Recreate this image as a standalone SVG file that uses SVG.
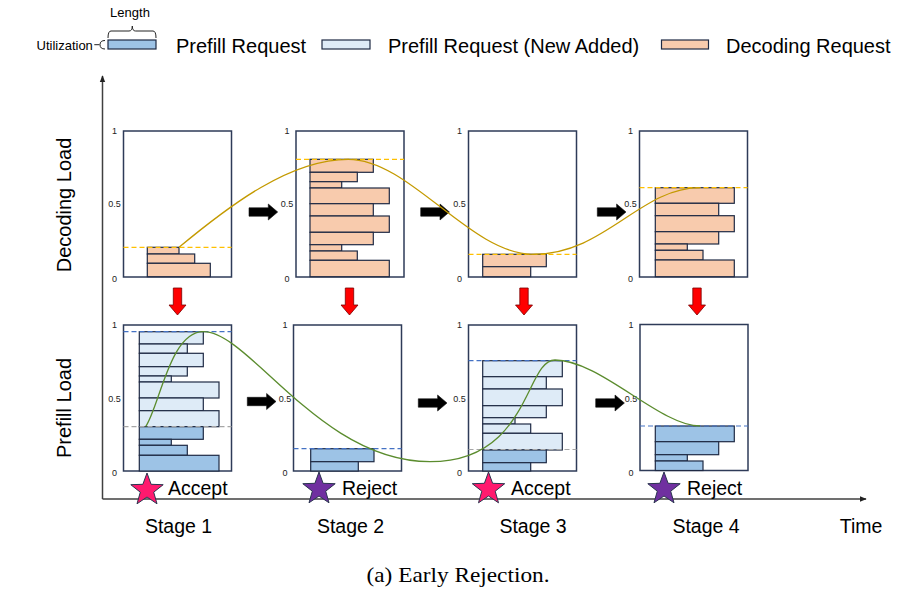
<svg xmlns="http://www.w3.org/2000/svg" width="900" height="596" viewBox="0 0 900 596">
<defs>
<style>
.box{fill:#fff;stroke:#2e3b58;stroke-width:1.5}
.dec{fill:#f8cbad;stroke:#1f2a44;stroke-width:1.2}
.pre{fill:#9dc3e6;stroke:#1f2a44;stroke-width:1.2}
.new{fill:#deebf7;stroke:#1f2a44;stroke-width:1.2}
.dY{stroke:#ffc000;stroke-width:1.2;stroke-dasharray:5 3;fill:none}
.dB{stroke:#4472c4;stroke-width:1.2;stroke-dasharray:5 3;fill:none}
.dG{stroke:#a6a6a6;stroke-width:1.2;stroke-dasharray:5 3;fill:none}
.tick{font-family:"Liberation Sans",Arial,sans-serif;font-size:9px;fill:#222;text-anchor:middle}
.big{font-family:"Liberation Sans",Arial,sans-serif;font-size:20px;fill:#000}
.lab{font-family:"Liberation Sans",Arial,sans-serif;font-size:19.5px;fill:#000}
.small{font-family:"Liberation Sans",Arial,sans-serif;font-size:13px;fill:#000}
.axis{stroke:#404040;stroke-width:1.5;fill:none}
.barr{fill:#000;stroke:#111;stroke-width:0.6}
.rarr{fill:#ff0000;stroke:#7a0000;stroke-width:0.8}
.star{stroke:#2b3550;stroke-width:1}
</style>
<path id="ba" d="M0,-4.2 H19.3 V-8 L28.7,0 L19.3,8 V4.2 H0 Z"/>
<path id="ra" d="M-4.2,0 H4.2 V17 H8.5 L0,27 L-8.5,17 H-4.2 Z"/>
<path id="st" d="M0,-17 L4.1,-5.7 L16.2,-5.3 L6.7,2.2 L10,13.8 L0,7 L-10,13.8 L-6.7,2.2 L-16.2,-5.3 L-4.1,-5.7 Z"/>
<marker id="ah" viewBox="0 0 10 10" refX="9" refY="5" markerWidth="7" markerHeight="7" orient="auto" markerUnits="userSpaceOnUse"><path d="M0,1 L10,5 L0,9 Z" fill="#222"/></marker>
</defs>
<rect width="900" height="596" fill="#fff"/>

<g id="legend">
<text class="small" x="130" y="16.5" text-anchor="middle">Length</text>
<path d="M108,38 Q108,31 111,31 H129 Q132.3,31 132.3,26 Q132.3,31 135.6,31 H153 Q156,31 156,38" fill="none" stroke="#222" stroke-width="1"/>
<text class="small" x="36.5" y="49.5">Utilization</text>
<path d="M94.3,44.7 H99.5 M105,40.5 Q100,40.5 100,44.7 Q100,49 105,49" fill="none" stroke="#222" stroke-width="1"/>
<rect class="pre" x="108" y="40" width="48" height="9"/>
<text class="big" x="176" y="53">Prefill Request</text>
<rect class="new" x="322" y="40" width="48" height="9"/>
<text class="big" x="388" y="53">Prefill Request (New Added)</text>
<rect class="dec" x="661.5" y="40" width="47" height="9"/>
<text class="big" x="726" y="53">Decoding Request</text>
</g>

<g id="axes">
<path class="axis" d="M102.5,499 V76" marker-end="url(#ah)"/>
<path class="axis" d="M102.5,499 H866" marker-end="url(#ah)"/>
<text class="big" transform="translate(71,205) rotate(-90)" text-anchor="middle">Decoding Load</text>
<text class="big" transform="translate(71,408) rotate(-90)" text-anchor="middle">Prefill Load</text>
</g>

<g id="decode-stage1">
<rect class="box" x="123.5" y="131" width="108" height="146"/>
<text class="tick" x="114.5" y="134">1</text><text class="tick" x="114.5" y="206.5">0.5</text><text class="tick" x="114.5" y="281.5">0</text>
<rect class="dec" x="147.3" y="247.3" width="31.7" height="6.7"/>
<rect class="dec" x="147.3" y="254" width="47.4" height="9.3"/>
<rect class="dec" x="147.3" y="263.3" width="63" height="13.4"/>
<line class="dY" x1="123.5" y1="247.3" x2="231.5" y2="247.3"/>
</g>

<g id="decode-stage2">
<rect class="box" x="296" y="131" width="108" height="146"/>
<text class="tick" x="287" y="134">1</text><text class="tick" x="287" y="206.5">0.5</text><text class="tick" x="287" y="281.5">0</text>
<rect class="dec" x="310" y="159.3" width="63.3" height="13"/>
<rect class="dec" x="310" y="172.3" width="47.3" height="9.4"/>
<rect class="dec" x="310" y="181.7" width="31.7" height="6.3"/>
<rect class="dec" x="310" y="188" width="79.3" height="15.7"/>
<rect class="dec" x="310" y="203.7" width="63.3" height="12.3"/>
<rect class="dec" x="310" y="216" width="79.3" height="16.3"/>
<rect class="dec" x="310" y="232.3" width="63.3" height="12.4"/>
<rect class="dec" x="310" y="244.7" width="31.7" height="6.3"/>
<rect class="dec" x="310" y="251" width="47.3" height="9.3"/>
<rect class="dec" x="310" y="260.3" width="79.3" height="16.4"/>
<line class="dY" x1="296" y1="159.3" x2="404" y2="159.3"/>
</g>

<g id="decode-stage3">
<rect class="box" x="468.5" y="131" width="108" height="146"/>
<text class="tick" x="459.5" y="134">1</text><text class="tick" x="459.5" y="206.5">0.5</text><text class="tick" x="459.5" y="281.5">0</text>
<rect class="dec" x="482.7" y="254.3" width="63.6" height="12.4"/>
<rect class="dec" x="482.7" y="266.7" width="48" height="10"/>
<line class="dY" x1="468.5" y1="254.3" x2="576.5" y2="254.3"/>
</g>

<g id="decode-stage4">
<rect class="box" x="639.5" y="131" width="108" height="146"/>
<text class="tick" x="630.5" y="134">1</text><text class="tick" x="630.5" y="206.5">0.5</text><text class="tick" x="630.5" y="281.5">0</text>
<rect class="dec" x="655.3" y="187.7" width="79" height="15.6"/>
<rect class="dec" x="655.3" y="203.3" width="63.4" height="12.4"/>
<rect class="dec" x="655.3" y="215.7" width="79" height="16"/>
<rect class="dec" x="655.3" y="231.7" width="63.4" height="12.3"/>
<rect class="dec" x="655.3" y="244" width="32" height="6.3"/>
<rect class="dec" x="655.3" y="250.3" width="47.7" height="9.7"/>
<rect class="dec" x="655.3" y="260" width="79" height="16.7"/>
<line class="dY" x1="639.5" y1="187.7" x2="747.5" y2="187.7"/>
</g>

<g id="prefill-stage1">
<rect class="box" x="123.5" y="325" width="108" height="146"/>
<text class="tick" x="114.5" y="328">1</text><text class="tick" x="114.5" y="402">0.5</text><text class="tick" x="114.5" y="476">0</text>
<rect class="new" x="139.3" y="331.7" width="64" height="12.3"/>
<rect class="new" x="139.3" y="344" width="48" height="9.3"/>
<rect class="new" x="139.3" y="353.3" width="64" height="13.4"/>
<rect class="new" x="139.3" y="366.7" width="48" height="9.3"/>
<rect class="new" x="139.3" y="376" width="32" height="6"/>
<rect class="new" x="139.3" y="382" width="79.7" height="16"/>
<rect class="new" x="139.3" y="398" width="64" height="12.7"/>
<rect class="new" x="139.3" y="410.7" width="79.7" height="16"/>
<rect class="pre" x="139.3" y="426.7" width="64" height="12.6"/>
<rect class="pre" x="139.3" y="439.3" width="32" height="6"/>
<rect class="pre" x="139.3" y="445.3" width="48" height="10"/>
<rect class="pre" x="139.3" y="455.3" width="79.7" height="15.7"/>
<line class="dB" x1="123.5" y1="331.7" x2="231.5" y2="331.7"/>
<line class="dG" x1="123.5" y1="426.7" x2="231.5" y2="426.7"/>
</g>

<g id="prefill-stage2">
<rect class="box" x="293.5" y="325" width="108" height="146"/>
<text class="tick" x="285" y="328">1</text><text class="tick" x="285" y="402">0.5</text><text class="tick" x="285" y="476">0</text>
<rect class="pre" x="310.7" y="448.7" width="63.3" height="13"/>
<rect class="pre" x="310.7" y="461.7" width="47.6" height="9.3"/>
<line class="dB" x1="293.5" y1="448.7" x2="401.5" y2="448.7"/>
</g>

<g id="prefill-stage3">
<rect class="box" x="468.5" y="325" width="108" height="146"/>
<text class="tick" x="459.5" y="328">1</text><text class="tick" x="459.5" y="402">0.5</text><text class="tick" x="459.5" y="476">0</text>
<rect class="new" x="482.7" y="360.7" width="79.6" height="16"/>
<rect class="new" x="482.7" y="376.7" width="63.6" height="12.3"/>
<rect class="new" x="482.7" y="389" width="79.6" height="16.7"/>
<rect class="new" x="482.7" y="405.7" width="63.6" height="12"/>
<rect class="new" x="482.7" y="417.7" width="32.3" height="6.3"/>
<rect class="new" x="482.7" y="424" width="48" height="9.3"/>
<rect class="new" x="482.7" y="433.3" width="79.6" height="16.7"/>
<rect class="pre" x="482.7" y="450" width="63.6" height="12.7"/>
<rect class="pre" x="482.7" y="462.7" width="48" height="8.3"/>
<line class="dB" x1="468.5" y1="360.7" x2="576.5" y2="360.7"/>
<line class="dG" x1="468.5" y1="449.5" x2="576.5" y2="449.5"/>
</g>

<g id="prefill-stage4">
<rect class="box" x="640" y="324.5" width="108" height="146"/>
<text class="tick" x="631" y="328">1</text><text class="tick" x="631" y="402">0.5</text><text class="tick" x="631" y="476">0</text>
<rect class="pre" x="655.3" y="426" width="79" height="15.7"/>
<rect class="pre" x="655.3" y="441.7" width="63.4" height="13"/>
<rect class="pre" x="655.3" y="454.7" width="32" height="6.3"/>
<rect class="pre" x="655.3" y="461" width="47.7" height="9.5"/>
<line class="dB" x1="640" y1="426" x2="748" y2="426"/>
</g>

<g id="connectors">
<use href="#ba" class="barr" x="249" y="212"/>
<use href="#ba" class="barr" x="420.7" y="212"/>
<use href="#ba" class="barr" x="597.3" y="212"/>
<use href="#ba" class="barr" x="247.3" y="401.5"/>
<use href="#ba" class="barr" x="418.3" y="403"/>
<use href="#ba" class="barr" x="595.7" y="403"/>
<use href="#ra" class="rarr" x="177.5" y="288"/>
<use href="#ra" class="rarr" x="349.5" y="288"/>
<use href="#ra" class="rarr" x="524" y="288"/>
<use href="#ra" class="rarr" x="697" y="288"/>
<path d="M179,247.3 C230,205 290,159.3 348.3,159.3 C410,159.3 470,254.3 533.3,254.3 C605,254.3 640,187.7 700,187.7" fill="none" stroke="#c49a00" stroke-width="1.3"/>
<path d="M145.7,426.7 C160,405 170,331.7 203.3,331.7 C250,331.7 320,461.7 430,461.7 C530,461.7 525,360 555,360 C600,360 660,426 700,426" fill="none" stroke="#5b8c2e" stroke-width="1.3"/>
</g>

<g id="decisions">
<use href="#st" class="star" x="147" y="490" fill="#ff1a6e"/>
<text class="lab" x="168" y="495">Accept</text>
<use href="#st" class="star" x="319" y="489" fill="#7030a0"/>
<text class="lab" x="342" y="495">Reject</text>
<use href="#st" class="star" x="488.5" y="489" fill="#ff1a6e"/>
<text class="lab" x="511" y="495">Accept</text>
<use href="#st" class="star" x="664" y="489" fill="#7030a0"/>
<text class="lab" x="687" y="495">Reject</text>
</g>

<g id="stage-labels">
<text class="lab" x="178.5" y="533" text-anchor="middle">Stage 1</text>
<text class="lab" x="350.5" y="533" text-anchor="middle">Stage 2</text>
<text class="lab" x="533" y="533" text-anchor="middle">Stage 3</text>
<text class="lab" x="706" y="533" text-anchor="middle">Stage 4</text>
<text class="lab" x="861" y="533" text-anchor="middle">Time</text>
</g>

<text x="458" y="582" text-anchor="middle" font-family="'Liberation Serif','Times New Roman',serif" font-size="21" textLength="183" lengthAdjust="spacingAndGlyphs" fill="#000">(a) Early Rejection.</text>
</svg>
